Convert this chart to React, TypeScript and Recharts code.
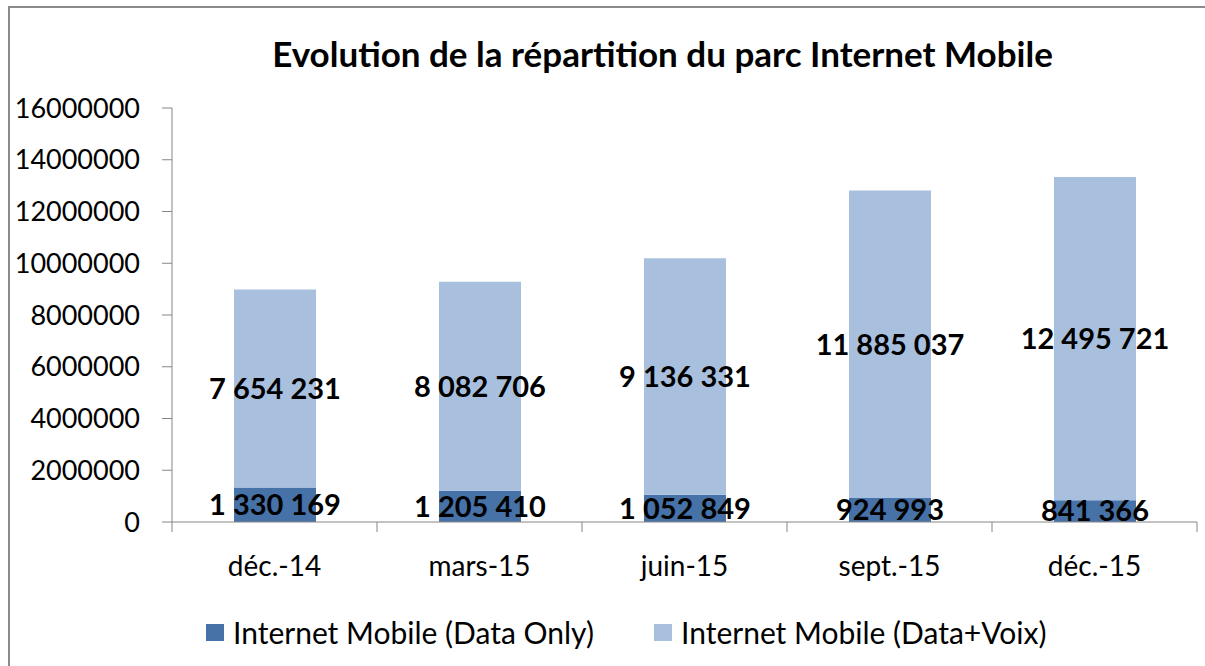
import React from 'react';
import { BarChart, Bar, XAxis, YAxis, LabelList } from 'recharts';

const categories = ['déc.-14', 'mars-15', 'juin-15', 'sept.-15', 'déc.-15'];
const dataOnly = [1330169, 1205410, 1052849, 924993, 841366];
const dataVoix = [7654231, 8082706, 9136331, 11885037, 12495721];
const yTicks = [0, 2000000, 4000000, 6000000, 8000000, 10000000, 12000000, 14000000, 16000000];

const data = categories.map((name, i) => ({ name, dataOnly: dataOnly[i], dataVoix: dataVoix[i] }));

const FONT = 'Lato, "Open Sans", sans-serif';
const AXIS = '#868686';
const DARK = '#4672A8';
const LIGHT = '#A8C0DE';

const W = 1205;
const H = 666;
const PLOT_LEFT = 172;
const PLOT_RIGHT = 8;
const BAND = (W - PLOT_LEFT - PLOT_RIGHT) / categories.length;
const X_MARGIN = 34;

const fmt = (v: any) => String(v).replace(/\B(?=(\d{3})+(?!\d))/g, ' ');

// category ticks sit between the bars, like the original
const XTick = (props: any) => {
  const { x, y, payload, index } = props;
  const y0 = y - X_MARGIN;
  return (
    <g>
      <line x1={x - BAND / 2} x2={x - BAND / 2} y1={y0} y2={y0 + 10} stroke={AXIS} />
      {index === categories.length - 1 && (
        <line x1={x + BAND / 2} x2={x + BAND / 2} y1={y0} y2={y0 + 10} stroke={AXIS} />
      )}
      <text x={x} y={y} dy="0.71em" textAnchor="middle" fill="#000" fontSize={28} fontFamily={FONT}>
        {payload.value}
      </text>
    </g>
  );
};

const LegendItem = ({ color, label }: { color: string; label: string }) => (
  <div style={{ display: 'flex', alignItems: 'center' }}>
    <div style={{ width: 18, height: 17, background: color, marginRight: 9 }} />
    <span>{label}</span>
  </div>
);

export default function App() {
  return (
    <div style={{ position: 'absolute', left: 0, top: 0, width: W, height: H, background: '#fff', overflow: 'hidden', fontFamily: FONT }}>
      <div style={{ position: 'absolute', left: 8, top: 6, width: W, height: H, border: '2px solid #8a8a8a', boxSizing: 'border-box' }} />
      <div style={{ position: 'absolute', left: 0, top: 32, width: W + 120, textAlign: 'center', fontSize: 35, fontWeight: 700, color: '#000' }}>
        Evolution de la répartition du parc Internet Mobile
      </div>
      <div style={{ position: 'absolute', left: 0, top: 0 }}>
        <BarChart width={W} height={H} data={data} margin={{ top: 108, right: PLOT_RIGHT, bottom: 84, left: 0 }} barSize={82}>
          <YAxis
            width={PLOT_LEFT}
            domain={[0, 16000000]}
            ticks={yTicks}
            interval={0}
            axisLine={{ stroke: AXIS }}
            tickLine={{ stroke: AXIS }}
            tickSize={10}
            tickMargin={22}
            tick={{ fill: '#000', fontSize: 27, fontFamily: FONT }}
          />
          <XAxis
            dataKey="name"
            height={60}
            axisLine={{ stroke: AXIS }}
            tickLine={false}
            tickSize={0}
            tickMargin={X_MARGIN}
            interval={0}
            tick={<XTick />}
          />
          <Bar dataKey="dataOnly" stackId="a" fill={DARK} isAnimationActive={false}>
            <LabelList dataKey="dataOnly" position="center" formatter={fmt} fill="#000" fontSize={29} fontWeight={700} fontFamily={FONT} />
          </Bar>
          <Bar dataKey="dataVoix" stackId="a" fill={LIGHT} isAnimationActive={false}>
            <LabelList dataKey="dataVoix" position="center" formatter={fmt} fill="#000" fontSize={29} fontWeight={700} fontFamily={FONT} />
          </Bar>
        </BarChart>
      </div>
      <div style={{ position: 'absolute', left: 206, top: 614, display: 'flex', fontSize: 30, color: '#000' }}>
        <div style={{ width: 448 }}>
          <LegendItem color={DARK} label="Internet Mobile (Data Only)" />
        </div>
        <LegendItem color={LIGHT} label="Internet Mobile (Data+Voix)" />
      </div>
    </div>
  );
}
